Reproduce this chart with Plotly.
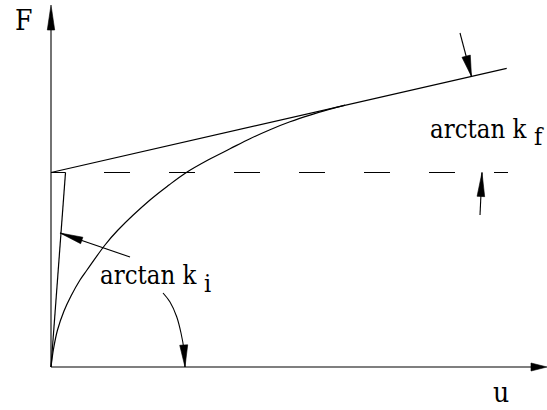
import numpy as np
import plotly.graph_objects as go

# Force-displacement backbone curve (u, F)
curve_u = [0, 2.5, 6.5, 13, 20, 29, 36, 54, 67, 99, 118, 135, 157, 179, 199, 219, 239, 259, 279, 294]
curve_F = [0, 18, 37, 56, 71, 87, 97, 122, 137, 167, 182, 194.3, 207, 218.2, 228.3, 237.3, 245.2, 251.9, 257.8, 261.9]

# Intercept force and the two stiffness lines
F0 = 194.5
kf_u = [0, 455.7]
kf_F = [194.5, 298.7]
ki_u = [0, 14.5]
ki_F = [0, 194.5]
dash_u = [53, 457]

# Axes (end points carry the arrow tips)
yaxis_tip = (0, 362)
xaxis_tip = (496, 0)

# Angle indicator arrows: path points, head length, head half-width
arrows = [
    ([(409, 334), (420.5, 290.5)], 21, 4.3),
    ([(429, 152), (431, 194.5)], 24, 3.8),
    ([(79, 110), (9, 134)], 23, 3.4),
    ([(112, 74), (119, 65), (125.7, 50.3), (130, 34), (133, 17), (134, 0)], 22, 4.0),
    ([(0, 0), yaxis_tip], 25, 3.7),
    ([(0, 0), xaxis_tip], 16, 4.0),
]

INK = "black"
SERIF = "DejaVu Serif Condensed, DejaVu Serif"

fig = go.Figure()


def add_line(xs, ys, width=1.1, dash=None, shape="linear"):
    fig.add_trace(go.Scatter(
        x=xs, y=ys, mode="lines",
        line=dict(color=INK, width=width, dash=dash, shape=shape),
        hoverinfo="skip"))


def head(points, length, half):
    tip = np.array(points[-1], float)
    prev = np.array(points[-2], float)
    d = tip - prev
    d /= np.hypot(*d)
    n = np.array([-d[1], d[0]])
    base = tip - length * d
    poly = [tip, base + half * n, base - half * n, tip]
    return [p[0] for p in poly], [p[1] for p in poly]


# Axes
add_line([0, yaxis_tip[0]], [0, yaxis_tip[1] - 10], width=1.1)
add_line([0, xaxis_tip[0] - 8], [0, 0], width=1.1)

# Dashed reference level at F0 (short solid piece next to the axis)
add_line([0, ki_u[1]], [F0, F0], width=1.0)
add_line(dash_u, [F0, F0], width=1.0, dash="26px,39px")

# Stiffness lines
add_line(kf_u, kf_F, width=1.2)
add_line(ki_u, ki_F, width=1.2)

# Backbone curve
add_line(curve_u, curve_F, width=1.2, shape="spline")

# Indicator arrows
for pts, L, hw in arrows:
    if len(pts) > 2:
        add_line([p[0] for p in pts], [p[1] for p in pts], width=1.1, shape="spline")
    elif pts[0] != (0, 0):
        add_line([p[0] for p in pts], [p[1] for p in pts], width=1.1)
    hx, hy = head(pts, L, hw)
    fig.add_trace(go.Scatter(x=hx, y=hy, mode="lines", fill="toself",
                             fillcolor=INK, line=dict(color=INK, width=0.6),
                             hoverinfo="skip"))


def label(x, y, text, size):
    fig.add_annotation(x=x, y=y, xref="x", yref="y", text=text, showarrow=False,
                       xanchor="left", yanchor="middle", borderpad=0,
                       font=dict(family=SERIF, size=size, color=INK))


label(-37, 346.7, "F", 28)
label(441, -25.3, "u", 28)
label(378, 238, "arctan k", 25.5)
label(482, 231, "f", 25)
label(48, 92, "arctan k", 25.5)
label(152, 84, "i", 25)

fig.update_layout(
    width=547, height=410, autosize=False,
    margin=dict(l=0, r=0, t=0, b=0),
    paper_bgcolor="white", plot_bgcolor="white",
    showlegend=False,
    xaxis=dict(range=[-51, 496], visible=False, fixedrange=True),
    yaxis=dict(range=[-43, 367], visible=False, fixedrange=True),
)

fig.write_html("out.html")
